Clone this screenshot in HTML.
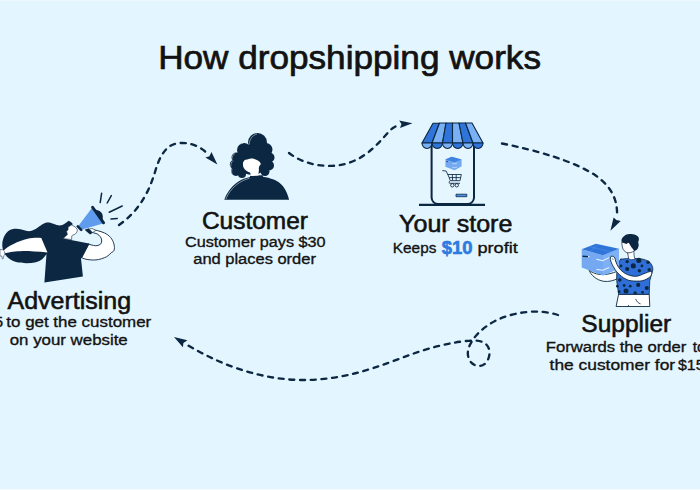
<!DOCTYPE html>
<html><head><meta charset="utf-8">
<style>
html,body{margin:0;padding:0;width:700px;height:490px;overflow:hidden;background:#e3f5fe;}
svg{position:absolute;left:0;top:0;display:block;}
text{font-family:"Liberation Sans",sans-serif;fill:#121212;stroke:#121212;}
</style></head><body>
<svg width="700" height="490" viewBox="0 0 700 490">
<rect width="700" height="490" fill="#e3f5fe"/>
<rect x="0" y="0" width="700" height="1" fill="#edf8fe"/>
<rect x="0" y="489" width="700" height="1" fill="#f2fafe"/>

<!-- dashed connectors -->
<g fill="none" stroke="#0b2742" stroke-width="2.35" stroke-linecap="round" stroke-dasharray="5 5.7">
<path d="M119,225 C139,211 149,192 155,172 C161,151 169,143.5 180.5,143 C195,142.5 204,150 209,155"/>
<path d="M289,153 C305,165.5 330,169.5 350,162.5 C370,155 380,141 390,130.5 C393,127.5 396,126 399,125"/>
<path d="M502,143.5 C540,151 575,162 595,175 C612,187 618,200 617,218"/>
<path d="M558,315 C540,309 515,311 495,321 C482,328 473,337 469,347 C465,358 472,366 479,366 C487,366 491,356 489,349 C486,340 476,340 466,341 C440,344 420,351 400,358.5 C365,372 335,380.5 300,380 C255,379 215,362 184,343"/>
</g>
<g fill="#0b2742">
<path d="M217.35,164.5 L211.5,151.9 L209.4,156.2 L205.4,157.5 Z"/>
<path d="M412.5,123.2 L399.1,120.4 L401.5,124.1 L400,128.05 Z"/>
<path d="M610.4,230.7 L613.6,217.5 L616.4,220 L620.7,221.1 Z"/>
<path d="M174,337 L187.4,340.3 L183.4,342.9 L182.9,347.2 Z"/>
</g>

<!-- texts -->
<g>
<text x="158.16" y="68.8" font-size="32.5" style="stroke-width:0.7px" textLength="382.83" lengthAdjust="spacingAndGlyphs">How dropshipping works</text>
<text x="201.94" y="228.8" font-size="23" style="stroke-width:0.55px" textLength="106.05" lengthAdjust="spacingAndGlyphs">Customer</text>
<text x="184.99" y="246.6" font-size="15.5" style="stroke-width:0.35px" textLength="140.67" lengthAdjust="spacingAndGlyphs">Customer pays $30</text>
<text x="193.28" y="264.3" font-size="15.5" style="stroke-width:0.35px" textLength="122.64" lengthAdjust="spacingAndGlyphs">and places order</text>
<text x="399.05" y="231.9" font-size="23" style="stroke-width:0.55px" textLength="113.36" lengthAdjust="spacingAndGlyphs">Your store</text>
<text x="392.87" y="253.3" font-size="15.5" style="stroke-width:0.35px" textLength="43.46" lengthAdjust="spacingAndGlyphs">Keeps</text>
<text x="441.78" y="253.6" font-size="18" font-weight="bold" style="fill:#2e7ae0;stroke:#2e7ae0;stroke-width:0.6px" textLength="30.82" lengthAdjust="spacingAndGlyphs">$10</text>
<text x="477.40" y="253.3" font-size="15.5" style="stroke-width:0.35px" textLength="40.39" lengthAdjust="spacingAndGlyphs">profit</text>
<text x="7.54" y="309" font-size="23" style="stroke-width:0.55px" textLength="123.60" lengthAdjust="spacingAndGlyphs">Advertising</text>
<text x="6.32" y="326.7" font-size="15.5" style="stroke-width:0.35px" textLength="144.90" lengthAdjust="spacingAndGlyphs">to get the customer</text>
<text x="9.76" y="344.6" font-size="15.5" style="stroke-width:0.35px" textLength="117.98" lengthAdjust="spacingAndGlyphs">on your website</text>
<text x="581.38" y="331.7" font-size="23" style="stroke-width:0.55px" textLength="89.80" lengthAdjust="spacingAndGlyphs">Supplier</text>
<text x="545.74" y="351.7" font-size="15.5" style="stroke-width:0.35px" textLength="140.61" lengthAdjust="spacingAndGlyphs">Forwards the order</text>
<text x="549.61" y="369.5" font-size="15.5" style="stroke-width:0.35px" textLength="125.51" lengthAdjust="spacingAndGlyphs">the customer for</text>
<text x="-14.7" y="326.7" font-size="15.5" style="stroke-width:0.35px" textLength="17.8" lengthAdjust="spacingAndGlyphs">$5</text>
<text x="692.8" y="351.7" font-size="15.5" style="stroke-width:0.35px">to</text>
<text x="678" y="369.5" font-size="15.5" style="stroke-width:0.35px" textLength="26.5" lengthAdjust="spacingAndGlyphs">$15</text>
</g>

<!-- ADVERTISING WOMAN -->
<g id="adv">
  <!-- hair + shirt dark -->
  <path d="M2.3,246 C2,238 6,231 12,229.3 C18,227.8 22,230 27,231 C33,232 37,228 42,224.5 C46,221.5 50,222 54,224 C58,226 62,226 65,223.5 L68.7,220.8 C70.5,221.5 72,222.8 73,224.2 L71.2,225.1 L68.1,227.3 L68.1,229.7 L66.6,231.6 L67.5,234.6 L63.2,238.6 L89,243.4 L81,258.6 L82.9,276.4 L44.4,282.4 L46.5,254 C44,258 41,261 36,262.3 C30,263.5 22,263.5 16,262 C9,260 3,255 2.3,246 Z" fill="#0b2742"/>
  <!-- back arm white -->
  <path d="M3,251 C8,246 18,241 27.6,238.7 C33,237.5 38,237.5 41.3,238 L47.5,252.5 C38,251.5 30,251 23,251 C15,251.3 10,252 5.5,253.3 Z" fill="#fff"/>
  <path d="M0,249.5 L3,249.8 C4.5,251 5,252.5 4.8,254 C4,255 3.5,256.5 3.3,258.5 L2.3,259 L1.8,256 L0,256 Z" fill="#fff" stroke="#0b2742" stroke-width="0.5"/>
  <!-- face -->
  <path d="M71.2,225.1 C73,225.8 75,226.5 76.1,227.9 C77,229 77.5,230 77.3,231 L76.4,232.8 C75.8,233.8 75,234.3 74.3,234.6 C73,235 72.2,235.3 71.8,235.9 L71.6,239.5 L63.2,238.6 C65,237 66.5,235.8 67.5,234.6 L66.6,231.6 L68.1,229.7 L68.1,227.3 Z" fill="#fff" stroke="#0b2742" stroke-width="0.6" stroke-linejoin="round"/>
  <!-- right arm -->
  <path d="M90.6,229.2 C95,230 100,231 104.4,232.9 C109,235 113,239 114.1,244.8 C115,249 114,252 111.8,252.2 C109,255 107,257 104.4,257.7 C100,259.5 97,260 93.4,260 C89,260 85,259.3 81.4,257.7 L88.8,244.3 C92,245 95,246 97,245.7 C100,245 101.7,244 101.7,241 C101.7,238 100,235.5 97,233.8 C95,233 92,232.5 90.2,232 Z" fill="#fff" stroke="#0b2742" stroke-width="0.9" stroke-linejoin="round"/>
  <path d="M81.5,258 L88.8,243.4" stroke="#0b2742" stroke-width="1"/>
  <!-- megaphone -->
  <path d="M78.5,225.8 L91.5,208.5 L103,223.5 L81.5,229.8 Z" fill="#5f9cee"/>
  <path d="M77.8,226.4 L81.2,229.8" stroke="#0b2742" stroke-width="2.6" stroke-linecap="round"/>
  <path d="M94,209.5 C96,209.8 98,210 99.5,211 C101.5,212.3 102.8,214.2 102.8,216.5 C102.8,218.5 102.5,219.8 102.8,221.5 Z" fill="#0b2742"/>
  <path d="M92.6,207.3 L103.6,222.8" stroke="#0b2742" stroke-width="2.9" stroke-linecap="round"/>
  <path d="M84.6,229.8 L88.8,228.3 L92.8,232.8 L90,234.4 Z" fill="#0b2742"/>
  <path d="M89.3,229.2 C90.8,228.4 92.5,228.4 94.2,229.4 L95.5,230.7 C94.5,231.3 93.5,231.8 92.6,232.4 Z" fill="#fff" stroke="#0b2742" stroke-width="0.6"/>
  <!-- sound lines -->
  <g stroke="#0b2742" stroke-width="1.5" stroke-linecap="round">
    <path d="M101.6,193.3 L100.2,202.6"/>
    <path d="M111.3,195.6 L107.2,203"/>
    <path d="M122.2,206 L109.2,212.2"/>
    <path d="M117.3,218.4 L111,219"/>
  </g>
</g>

<!-- CUSTOMER -->
<g id="cust" fill="#0b2742">
  <path d="M224.3,199.8 C227,192 233,184 241,180 C245,178 248,177.5 250,177 L250,175.7 L262.9,175.2 L262.9,176.8 C270,178 278,180 283.2,186.4 C286,190 288,195 289.1,199.8 Z"/>
  <circle cx="257.5" cy="142.5" r="9.5"/>
  <circle cx="244" cy="150" r="7"/>
  <circle cx="236.5" cy="157.5" r="5"/>
  <circle cx="234.8" cy="164.5" r="5"/>
  <circle cx="236" cy="171" r="5"/>
  <circle cx="242" cy="174" r="4"/>
  <circle cx="266" cy="149.5" r="6.5"/>
  <circle cx="269.5" cy="157.5" r="5"/>
  <circle cx="269" cy="165.5" r="5"/>
  <circle cx="265" cy="171.5" r="4.5"/>
  <ellipse cx="252" cy="160" rx="16" ry="15"/>
  <path d="M243,165 C242.5,161 245,159.4 247.4,159.4 C250,158.2 253,158.5 254.2,158.9 C257,159.5 260,161 260.9,163.9 C259,166 258.5,168 259,170 C258.7,172 258.5,173 258.5,175.5 L250.5,176 C250.5,174 250.5,173 250,172.5 C246,171.5 243,168 243,165 Z" fill="#fff"/>
</g>

<g fill="none" stroke="#dbe8f2" stroke-width="0.55">
  <path d="M225.8,199.2 C228.8,191.8 234.5,185 242.3,181 C245,179.6 247.5,178.8 249.5,178.3"/>
  <path d="M249.2,144.5 C249.3,139.5 252.5,135 257,134"/>
  <path d="M238,145.5 C239.5,144 241,143.5 243,143.3"/>
  <path d="M231.8,160 C231.8,157 233,154.5 235,153.5"/>
  <path d="M230.7,168 C230.5,165 231.2,162 233,160.5"/>
  <path d="M232.5,175 C231.5,173 231.3,171 232,169"/>
</g>
<!-- STORE -->
<g id="store" stroke="#0b2742" stroke-width="1.1" stroke-linejoin="round">
  <rect x="431.6" y="140" width="42.4" height="64" rx="6.5" fill="#e5f6fe" stroke-width="2"/>
  <path d="M419,204.8 L485,204.8" stroke-width="2.3"/>
  <path d="M433,123.3 L439.5,123.3 L432,143 L422,143 Z" fill="#2f74d9"/>
  <path d="M439.5,123 L446,123 L442.5,143 L432,143 Z" fill="#7ab0f4"/>
  <path d="M446,123 L452.5,123 L452.5,143 L442.5,143 Z" fill="#2f74d9"/>
  <path d="M452.5,123 L459,123 L463,143 L452.5,143 Z" fill="#7ab0f4"/>
  <path d="M459,123 L465.5,123 L473,143 L463,143 Z" fill="#2f74d9"/>
  <path d="M465.5,123 L472,123 L483,143 L473,143 Z" fill="#7ab0f4"/>
  <path d="M422,143 A5,5.5 0 0 0 432,143 Z" fill="#7ab0f4"/>
  <path d="M432,143 A5.25,5.5 0 0 0 442.5,143 Z" fill="#2f74d9"/>
  <path d="M442.5,143 A5,5.5 0 0 0 452.5,143 Z" fill="#7ab0f4"/>
  <path d="M452.5,143 A5.25,5.5 0 0 0 463,143 Z" fill="#2f74d9"/>
  <path d="M463,143 A5,5.5 0 0 0 473,143 Z" fill="#7ab0f4"/>
  <path d="M473,143 A5,5.5 0 0 0 483,143 Z" fill="#2f74d9"/>
  <!-- box -->
  <path d="M451.6,156.7 L461.6,159.4 L461.6,166.3 L454.7,170.2 L445.4,166.7 L445.4,159.4 Z" fill="#72a9f2" stroke="none"/>
  <path d="M451.6,156.7 L461.6,159.4 L454.2,162.2 L445.4,159.4 Z" fill="#3f84e2" stroke="none"/>
  <path d="M452.3,163.4 L454.8,163.9 L457,163 M452.3,167.3 L454.8,167.8 L457,167" stroke="#e8f3fe" stroke-width="0.6" fill="none"/>
  <path d="M446.2,161.3 L448,161.8" stroke="#0b2742" stroke-width="0.7"/>
  <!-- cart -->
  <g stroke-width="0.85" fill="none">
    <path d="M442.3,170.6 L446.1,171 L448.5,176 L450.3,180.7 L460,180.7 L461.3,174.5 L447.6,174.5"/>
    <path d="M449.3,177.6 L460.7,177.6 M452.3,174.5 L452.6,180.7 M456.2,174.5 L456.2,180.7"/>
    <path d="M450.3,180.7 C449,181.5 448.8,182.7 449.5,183.3 L460,183.3"/>
    <circle cx="452.3" cy="185.3" r="1.7"/>
    <circle cx="456.8" cy="185.3" r="1.7"/>
  </g>
  <rect x="456" y="194.2" width="10.8" height="2.5" fill="#4e8fe6" stroke-width="0.8"/>
</g>

<!-- SUPPLIER -->
<g id="sup" stroke-linejoin="round">
  <!-- pants -->
  <path d="M618.6,294.3 L649.2,294.3 L649.8,306.5 L616.1,306.5 Z" fill="#fff" stroke="#0b2742" stroke-width="0.9"/>
  <path d="M635.7,299 C636.5,301.5 638.5,303.3 640.6,303.9" fill="none" stroke="#0b2742" stroke-width="0.8"/>
  <path d="M628.4,305 L628.4,306.5" stroke="#0b2742" stroke-width="0.8"/>
  <!-- back arm -->
  <path d="M589,270 C591,275 596,280 603.7,281.3 C609,282 614,280.5 617.5,278.6 L618,271 C612,273.5 606,275 600,274.5 C595,274 591,272 589,270 Z" fill="#fff" stroke="#0b2742" stroke-width="0.9"/>
  <!-- shirt -->
  <path d="M620.5,259.6 C622.5,258.9 625.5,258.6 628.9,258.6 L634.4,258.6 C638,258.6 641,258.8 643,259.2 C646,260 648,261 649.5,262 C651.5,264 652.9,266.5 652.9,269.6 L649.8,280.6 L649.2,294.3 L618.6,294.3 L616.7,280.6 C616.5,275 616.8,271 617.4,268.4 C618,264 619.5,260.5 621,258.6 Z" fill="#2f6fd7" stroke="#0b2742" stroke-width="0.8"/>
  <g fill="#0b2742"><circle cx="638.8" cy="260.4" r="2.53"/><circle cx="627.2" cy="261.6" r="1.72"/><circle cx="648" cy="262.3" r="1.72"/><circle cx="633.3" cy="265.9" r="2.53"/><circle cx="641.9" cy="265.9" r="1.38"/><circle cx="621" cy="265.9" r="1.38"/><circle cx="627.2" cy="269" r="2.07"/><circle cx="639.4" cy="270.8" r="1.72"/><circle cx="649.2" cy="269.6" r="1.72"/><circle cx="619.8" cy="280" r="1.72"/><circle cx="638.2" cy="284.9" r="2.07"/><circle cx="624.1" cy="285.5" r="1.38"/><circle cx="630.2" cy="286.2" r="1.38"/><circle cx="646.8" cy="288" r="2.07"/><circle cx="626" cy="291" r="2.53"/><circle cx="635.1" cy="292.9" r="1.72"/><circle cx="642.5" cy="292.3" r="1.38"/><circle cx="619.2" cy="291.7" r="1.38"/><circle cx="617.4" cy="286.2" r="1.38"/></g>
  <!-- box -->
  <path d="M581.7,249.2 L602.8,255.2 L618.9,248.7 L618.9,268.5 L602.8,275.4 L581.7,267.5 Z" fill="#74a9f2"/>
  <path d="M602.8,255.2 L618.9,248.7 L618.9,268.5 L602.8,275.4 Z" fill="#7db0f5"/>
  <path d="M581.7,249.2 L595.9,243.7 L618.9,248.7 L602.8,255.2 Z" fill="#2f74d9"/>
  <path d="M589,246.5 L611,252 M598,244.5 L590,251.8" stroke="#5a95e8" stroke-width="0.5"/>
  <path d="M582.6,256.2 L588.1,256.6" stroke="#0b2742" stroke-width="1.4"/>
  <path d="M588.1,256.6 L589.5,256.8" stroke="#fff" stroke-width="1"/>
  <g stroke="#fff" stroke-width="0.9" fill="none">
    <path d="M596.4,259.3 L602.8,260.7 L609.2,257.6"/>
    <path d="M596.4,269.4 L602.8,270.3 L609.2,267.5"/>
  </g>
  <!-- front arm -->
  <path d="M615.6,261 C616.5,263.5 617.5,266 619.1,268 C621,270.5 623,272.2 625.3,273.5 C628,275 631,276 634.4,276.3 C637.5,276.5 640,275.5 642.7,274.2 C646,272.8 648.5,271.8 651.5,271 C652.5,274 651,277 646.8,279 C644,280.5 641.5,281.1 639.2,281.1 C635,281.2 632,281 628.8,280.4 C625,279 622,277 619.8,274.9 C617,272.5 615.5,270.5 614.2,268 C612.5,265.5 611.5,263 610.8,261 C610,259 610.3,257 611.2,256.3 C612.5,255.8 614,256.5 614.8,258 C615.3,259 615.5,260 615.6,261 Z" fill="#fff" stroke="#0b2742" stroke-width="0.9"/>
  <path d="M611.8,258.5 L613.5,259.6" stroke="#0b2742" stroke-width="0.6"/>
  <!-- neck & face -->
  <path d="M627.6,253 L634,250.5 C633.8,253 634,256.5 635,258.9 C633,260 630.5,260 628.7,258.9 C628.4,257 628.1,255 627.6,253 Z" fill="#fff" stroke="#0b2742" stroke-width="0.7"/>
  <path d="M621.9,242 C621.8,244.5 622.2,247.5 623.4,249.8 C624.3,251.2 625.6,252.2 627.1,252.6 C629.5,253.2 632,252.5 634.3,250.9 L635,243 Z" fill="#fff" stroke="#0b2742" stroke-width="0.7"/>
  <path d="M621.4,240.1 C622,238 623,236.7 624.3,235.9 C625.8,234.8 627.5,234.1 629.3,234.1 C631.8,234.1 634,234.4 635.7,235.1 C637.6,235.9 638.8,237.2 638.9,238.7 C639,240 638.3,241.2 638.2,242.3 C638.4,243.5 638.9,244.7 638.6,245.9 C638.2,247.6 637.4,249.3 636.4,250.1 C635.7,250.7 634.9,251 634.3,250.9 C633.4,249.8 632.4,248.5 631.4,247.3 L628.6,242.6 L626.4,244.1 L621.8,242.3 Z" fill="#0b2742"/>
</g>
</svg>
</body></html>
